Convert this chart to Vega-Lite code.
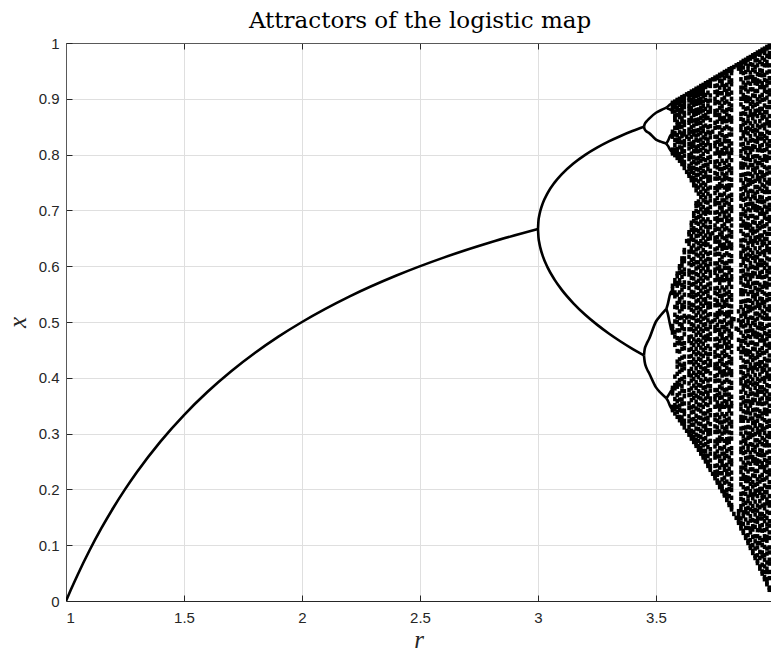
{
"$schema":"https://vega.github.io/schema/vega-lite/v6.json",
"autosize":{"type":"none"},
"width":705,"height":558,
"padding":{"left":66,"top":43,"right":0,"bottom":51},
"background":"white",
"title":{"text":"Attractors of the logistic map","font":"DejaVu Serif","fontSize":23,"fontWeight":"normal","color":"#000000","anchor":"middle","offset":14,"baseline":"alphabetic","dx":1.5,"dy":29},
"config":{"view":{"stroke":null}},
"datasets":{
"branches":[
{"b":"f","r":1,"x":0},{"b":"f","r":1.02,"x":0.0196},{"b":"f","r":1.05,"x":0.0476},{"b":"f","r":1.1,"x":0.0909},{"b":"f","r":1.15,"x":0.1304},{"b":"f","r":1.2,"x":0.1667},{"b":"f","r":1.25,"x":0.2},{"b":"f","r":1.3,"x":0.2308},{"b":"f","r":1.4,"x":0.2857},{"b":"f","r":1.5,"x":0.3333},{"b":"f","r":1.6,"x":0.375},{"b":"f","r":1.7,"x":0.4118},{"b":"f","r":1.8,"x":0.4444},{"b":"f","r":1.9,"x":0.4737},{"b":"f","r":2.0,"x":0.5},{"b":"f","r":2.2,"x":0.5455},{"b":"f","r":2.4,"x":0.5833},{"b":"f","r":2.6,"x":0.6154},{"b":"f","r":2.8,"x":0.6429},{"b":"f","r":3.0,"x":0.6667},
{"b":"p2u","r":3.0,"x":0.6667},{"b":"p2u","r":3.002,"x":0.6815},{"b":"p2u","r":3.005,"x":0.6899},{"b":"p2u","r":3.01,"x":0.6994},{"b":"p2u","r":3.02,"x":0.7125},{"b":"p2u","r":3.04,"x":0.7306},{"b":"p2u","r":3.07,"x":0.7498},{"b":"p2u","r":3.1,"x":0.7646},{"b":"p2u","r":3.15,"x":0.784},{"b":"p2u","r":3.2,"x":0.7995},{"b":"p2u","r":3.25,"x":0.8124},{"b":"p2u","r":3.3,"x":0.8236},{"b":"p2u","r":3.35,"x":0.8334},{"b":"p2u","r":3.4,"x":0.8422},{"b":"p2u","r":3.449,"x":0.8499},
{"b":"p2l","r":3.0,"x":0.6667},{"b":"p2l","r":3.002,"x":0.6516},{"b":"p2l","r":3.005,"x":0.6428},{"b":"p2l","r":3.01,"x":0.6329},{"b":"p2l","r":3.02,"x":0.6186},{"b":"p2l","r":3.04,"x":0.5984},{"b":"p2l","r":3.07,"x":0.5759},{"b":"p2l","r":3.1,"x":0.558},{"b":"p2l","r":3.15,"x":0.5335},{"b":"p2l","r":3.2,"x":0.513},{"b":"p2l","r":3.25,"x":0.4953},{"b":"p2l","r":3.3,"x":0.4794},{"b":"p2l","r":3.35,"x":0.4651},{"b":"p2l","r":3.4,"x":0.452},{"b":"p2l","r":3.449,"x":0.4401},
{"b":"a","r":3.449,"x":0.8499},{"b":"a","r":3.452,"x":0.8547},{"b":"a","r":3.46,"x":0.8595},{"b":"a","r":3.47,"x":0.864},{"b":"a","r":3.5,"x":0.875},{"b":"a","r":3.52,"x":0.8795},{"b":"a","r":3.544,"x":0.8841},
{"b":"c","r":3.449,"x":0.8499},{"b":"c","r":3.452,"x":0.8453},{"b":"c","r":3.46,"x":0.8415},{"b":"c","r":3.47,"x":0.839},{"b":"c","r":3.5,"x":0.8269},{"b":"c","r":3.52,"x":0.8232},{"b":"c","r":3.544,"x":0.8197},
{"b":"bb","r":3.449,"x":0.4401},{"b":"bb","r":3.452,"x":0.4287},{"b":"bb","r":3.46,"x":0.4173},{"b":"bb","r":3.47,"x":0.409},{"b":"bb","r":3.5,"x":0.3828},{"b":"bb","r":3.52,"x":0.373},{"b":"bb","r":3.544,"x":0.3633},
{"b":"d","r":3.449,"x":0.4401},{"b":"d","r":3.452,"x":0.4513},{"b":"d","r":3.46,"x":0.4607},{"b":"d","r":3.47,"x":0.469},{"b":"d","r":3.5,"x":0.5009},{"b":"d","r":3.52,"x":0.512},{"b":"d","r":3.544,"x":0.5236},
{"b":"a1","r":3.544,"x":0.8841},{"b":"a1","r":3.55,"x":0.886},{"b":"a1","r":3.56,"x":0.8899},{"b":"a1","r":3.565,"x":0.8905},
{"b":"a2","r":3.544,"x":0.8841},{"b":"a2","r":3.55,"x":0.8825},{"b":"a2","r":3.56,"x":0.8808},{"b":"a2","r":3.565,"x":0.8795},
{"b":"c1","r":3.544,"x":0.8197},{"b":"c1","r":3.55,"x":0.824},{"b":"c1","r":3.56,"x":0.8333},{"b":"c1","r":3.565,"x":0.8365},
{"b":"c2","r":3.544,"x":0.8197},{"b":"c2","r":3.55,"x":0.816},{"b":"c2","r":3.56,"x":0.8087},{"b":"c2","r":3.565,"x":0.8055},
{"b":"b1","r":3.544,"x":0.3633},{"b":"b1","r":3.55,"x":0.367},{"b":"b1","r":3.56,"x":0.3738},{"b":"b1","r":3.565,"x":0.3775},
{"b":"b2","r":3.544,"x":0.3633},{"b":"b2","r":3.55,"x":0.359},{"b":"b2","r":3.56,"x":0.349},{"b":"b2","r":3.565,"x":0.345},
{"b":"d1","r":3.544,"x":0.5236},{"b":"d1","r":3.55,"x":0.532},{"b":"d1","r":3.56,"x":0.5508},{"b":"d1","r":3.565,"x":0.5555},
{"b":"d2","r":3.544,"x":0.5236},{"b":"d2","r":3.55,"x":0.515},{"b":"d2","r":3.56,"x":0.4945},{"b":"d2","r":3.565,"x":0.4855}
],
"chaos":[
{"r":3.57,"x":[0.893,0.891,0.889,0.884,0.881,0.877,0.841,0.837,0.832,0.809,0.805,0.802,0.565,0.559,0.552,0.493,0.487,0.481,0.382,0.378,0.372,0.348,0.345,0.342]},
{"r":3.58,"x":[0.895,0.893,0.887,0.885,0.877,0.869,0.866,0.862,0.848,0.839,0.836,0.826,0.817,0.809,0.803,0.799,0.575,0.568,0.553,0.546,0.527,0.513,0.501,0.482,0.474,0.459,0.402,0.387,0.381,0.362,0.351,0.344,0.336]},
{"r":3.59,"x":[0.898,0.896,0.892,0.884,0.88,0.871,0.859,0.853,0.848,0.835,0.827,0.823,0.81,0.804,0.799,0.794,0.587,0.582,0.57,0.565,0.549,0.534,0.526,0.509,0.5,0.485,0.471,0.462,0.448,0.429,0.42,0.407,0.391,0.384,0.369,0.358,0.348,0.339,0.33]},
{"r":3.6,"x":[0.9,0.898,0.893,0.889,0.88,0.874,0.867,0.855,0.849,0.84,0.829,0.822,0.813,0.801,0.795,0.789,0.6,0.596,0.588,0.575,0.569,0.553,0.541,0.536,0.519,0.507,0.496,0.485,0.47,0.462,0.447,0.433,0.424,0.411,0.396,0.388,0.372,0.361,0.35,0.342,0.33,0.324]},
{"r":3.61,"x":[0.903,0.9,0.896,0.888,0.883,0.877,0.865,0.859,0.85,0.838,0.833,0.822,0.812,0.805,0.795,0.788,0.783,0.614,0.608,0.601,0.59,0.581,0.566,0.558,0.544,0.53,0.523,0.508,0.495,0.489,0.471,0.461,0.452,0.436,0.422,0.414,0.398,0.385,0.377,0.361,0.353,0.341,0.329,0.322,0.318]},
{"r":3.62,"x":[0.905,0.903,0.897,0.892,0.885,0.875,0.87,0.859,0.853,0.842,0.836,0.824,0.817,0.806,0.798,0.787,0.782,0.776,0.629,0.625,0.614,0.609,0.594,0.586,0.571,0.563,0.549,0.535,0.527,0.511,0.501,0.487,0.478,0.462,0.453,0.438,0.425,0.417,0.401,0.392,0.376,0.367,0.354,0.341,0.335,0.323,0.317,0.311]},
{"r":3.63,"x":[0.908,0.305,0.769,0.645,0.832,0.508]},
{"r":3.64,"x":[0.91,0.907,0.901,0.897,0.888,0.882,0.874,0.862,0.857,0.845,0.838,0.828,0.819,0.811,0.799,0.792,0.78,0.774,0.766,0.762,0.661,0.657,0.646,0.64,0.626,0.617,0.605,0.592,0.585,0.57,0.561,0.548,0.534,0.526,0.51,0.5,0.487,0.473,0.466,0.45,0.438,0.428,0.412,0.405,0.39,0.378,0.369,0.354,0.346,0.331,0.322,0.312,0.304,0.298]},
{"r":3.65,"x":[0.913,0.91,0.906,0.898,0.893,0.884,0.878,0.866,0.86,0.849,0.841,0.832,0.82,0.814,0.802,0.795,0.784,0.776,0.769,0.759,0.754,0.678,0.673,0.665,0.654,0.648,0.633,0.626,0.611,0.602,0.589,0.579,0.567,0.554,0.546,0.531,0.522,0.508,0.496,0.487,0.474,0.462,0.452,0.439,0.428,0.416,0.404,0.395,0.381,0.37,0.36,0.347,0.338,0.325,0.316,0.305,0.297,0.291]},
{"r":3.66,"x":[0.915,0.913,0.908,0.902,0.895,0.889,0.878,0.871,0.861,0.852,0.842,0.836,0.823,0.815,0.806,0.795,0.787,0.776,0.767,0.758,0.751,0.745,0.695,0.69,0.681,0.668,0.661,0.647,0.637,0.625,0.613,0.604,0.589,0.578,0.568,0.553,0.545,0.53,0.519,0.507,0.494,0.484,0.469,0.459,0.446,0.433,0.424,0.409,0.398,0.386,0.373,0.364,0.349,0.339,0.326,0.316,0.303,0.294,0.288,0.285]},
{"r":3.67,"x":[0.918,0.915,0.91,0.905,0.896,0.891,0.88,0.873,0.862,0.855,0.843,0.834,0.826,0.813,0.806,0.793,0.784,0.774,0.763,0.755,0.744,0.736,0.713,0.708,0.699,0.686,0.678,0.665,0.654,0.644,0.63,0.621,0.607,0.596,0.586,0.571,0.562,0.548,0.537,0.525,0.512,0.502,0.488,0.477,0.465,0.452,0.442,0.428,0.417,0.405,0.392,0.382,0.368,0.357,0.345,0.332,0.322,0.309,0.298,0.289,0.282,0.278]},
{"r":3.68,"x":[0.92,0.917,0.912,0.906,0.898,0.892,0.881,0.875,0.863,0.856,0.844,0.836,0.825,0.815,0.806,0.794,0.786,0.773,0.764,0.752,0.741,0.73,0.716,0.709,0.697,0.688,0.676,0.663,0.655,0.641,0.632,0.619,0.607,0.598,0.584,0.574,0.561,0.55,0.539,0.526,0.517,0.503,0.492,0.481,0.468,0.459,0.445,0.434,0.423,0.41,0.401,0.387,0.376,0.365,0.352,0.343,0.329,0.318,0.308,0.296,0.287,0.278,0.271]},
{"r":3.69,"x":[0.923,0.92,0.914,0.909,0.9,0.893,0.884,0.877,0.866,0.857,0.847,0.839,0.827,0.818,0.808,0.797,0.789,0.776,0.767,0.756,0.745,0.733,0.724,0.711,0.702,0.69,0.68,0.668,0.658,0.645,0.636,0.623,0.613,0.601,0.591,0.578,0.568,0.556,0.545,0.533,0.523,0.51,0.5,0.487,0.477,0.465,0.454,0.442,0.432,0.419,0.409,0.396,0.386,0.373,0.363,0.351,0.34,0.328,0.317,0.305,0.294,0.283,0.274,0.268,0.264]},
{"r":3.7,"x":[0.925,0.922,0.917,0.91,0.904,0.895,0.887,0.879,0.869,0.861,0.85,0.842,0.831,0.821,0.812,0.801,0.792,0.78,0.771,0.76,0.749,0.739,0.728,0.718,0.706,0.696,0.684,0.674,0.662,0.651,0.64,0.629,0.618,0.607,0.596,0.584,0.574,0.562,0.551,0.54,0.529,0.517,0.506,0.495,0.484,0.472,0.461,0.45,0.439,0.427,0.416,0.405,0.393,0.382,0.371,0.359,0.348,0.336,0.325,0.313,0.302,0.29,0.279,0.269,0.261,0.257]},
{"r":3.71,"x":[0.928,0.925,0.921,0.907,0.898,0.882,0.871,0.865,0.852,0.837,0.829,0.817,0.807,0.79,0.781,0.768,0.761,0.746,0.735,0.723,0.715,0.701,0.694,0.68,0.671,0.655,0.644,0.638,0.625,0.61,0.602,0.59,0.58,0.563,0.554,0.541,0.534,0.519,0.508,0.496,0.488,0.474,0.467,0.453,0.444,0.428,0.417,0.411,0.398,0.383,0.375,0.363,0.353,0.336,0.327,0.314,0.307,0.292,0.281,0.269,0.261,0.254,0.25]},
{"r":3.72,"x":[0.93,0.927,0.924,0.911,0.896,0.888,0.876,0.866,0.849,0.84,0.827,0.82,0.805,0.794,0.782,0.774,0.76,0.753,0.739,0.73,0.714,0.703,0.697,0.684,0.669,0.661,0.649,0.639,0.622,0.613,0.6,0.593,0.578,0.567,0.555,0.547,0.533,0.526,0.512,0.503,0.487,0.476,0.47,0.457,0.442,0.434,0.422,0.412,0.395,0.386,0.373,0.366,0.351,0.34,0.328,0.32,0.306,0.299,0.285,0.276,0.26,0.249,0.246,0.242]},
{"r":3.73,"x":[0.933,0.93,0.923,0.906,0.897,0.884,0.877,0.862,0.851,0.839,0.831,0.817,0.81,0.796,0.787,0.771,0.76,0.754,0.741,0.726,0.718,0.706,0.696,0.679,0.67,0.657,0.65,0.635,0.624,0.612,0.604,0.59,0.583,0.569,0.56,0.544,0.533,0.527,0.514,0.499,0.491,0.479,0.469,0.452,0.443,0.43,0.423,0.408,0.397,0.385,0.377,0.363,0.356,0.342,0.333,0.317,0.306,0.3,0.287,0.272,0.264,0.252,0.242,0.238,0.235]},
{"r":3.74,"x":[0.935,0.228,0.659,0.841,0.501]},
{"r":3.75,"x":[0.938,0.935,0.923,0.912,0.9,0.892,0.878,0.871,0.857,0.848,0.832,0.821,0.815,0.802,0.787,0.779,0.767,0.757,0.74,0.731,0.718,0.711,0.696,0.685,0.673,0.665,0.651,0.644,0.63,0.621,0.605,0.594,0.588,0.575,0.56,0.552,0.54,0.53,0.513,0.504,0.491,0.484,0.469,0.458,0.446,0.438,0.424,0.417,0.403,0.394,0.378,0.367,0.361,0.348,0.333,0.325,0.313,0.303,0.286,0.277,0.264,0.257,0.242,0.231,0.224,0.22]},
{"r":3.76,"x":[0.94,0.937,0.924,0.913,0.907,0.894,0.879,0.871,0.859,0.849,0.832,0.823,0.81,0.803,0.788,0.777,0.765,0.757,0.743,0.736,0.722,0.713,0.697,0.686,0.68,0.667,0.652,0.644,0.632,0.622,0.605,0.596,0.583,0.576,0.561,0.55,0.538,0.53,0.516,0.509,0.495,0.486,0.47,0.459,0.453,0.44,0.425,0.417,0.405,0.395,0.378,0.369,0.356,0.349,0.334,0.323,0.311,0.303,0.289,0.282,0.268,0.259,0.243,0.232,0.226,0.216,0.212]},
{"r":3.77,"x":[0.943,0.94,0.932,0.92,0.91,0.893,0.884,0.871,0.864,0.849,0.838,0.826,0.818,0.804,0.797,0.783,0.774,0.758,0.747,0.741,0.728,0.713,0.705,0.693,0.683,0.666,0.657,0.644,0.637,0.622,0.611,0.599,0.591,0.577,0.57,0.556,0.547,0.531,0.52,0.514,0.501,0.486,0.478,0.466,0.456,0.439,0.43,0.417,0.41,0.395,0.384,0.372,0.364,0.35,0.343,0.329,0.32,0.304,0.293,0.287,0.274,0.259,0.251,0.239,0.229,0.212,0.208,0.204]},
{"r":3.78,"x":[0.945,0.942,0.932,0.925,0.91,0.899,0.887,0.879,0.865,0.858,0.844,0.835,0.819,0.808,0.802,0.789,0.774,0.766,0.754,0.744,0.727,0.718,0.705,0.698,0.683,0.672,0.66,0.652,0.638,0.631,0.617,0.608,0.592,0.581,0.575,0.562,0.547,0.539,0.527,0.517,0.5,0.491,0.478,0.471,0.456,0.445,0.433,0.425,0.411,0.404,0.39,0.381,0.365,0.354,0.348,0.335,0.32,0.312,0.3,0.29,0.273,0.264,0.251,0.244,0.229,0.218,0.206,0.2,0.197]},
{"r":3.79,"x":[0.948,0.945,0.937,0.923,0.916,0.902,0.893,0.877,0.866,0.86,0.847,0.832,0.824,0.812,0.802,0.785,0.776,0.763,0.756,0.741,0.73,0.718,0.71,0.696,0.689,0.675,0.666,0.65,0.639,0.633,0.62,0.605,0.597,0.585,0.575,0.558,0.549,0.536,0.529,0.514,0.503,0.491,0.483,0.469,0.462,0.448,0.439,0.423,0.412,0.406,0.393,0.378,0.37,0.358,0.348,0.331,0.322,0.309,0.302,0.287,0.276,0.264,0.256,0.242,0.235,0.221,0.212,0.196,0.192,0.189]},
{"r":3.8,"x":[0.95,0.947,0.941,0.925,0.914,0.908,0.895,0.88,0.872,0.86,0.85,0.833,0.824,0.811,0.804,0.789,0.778,0.766,0.758,0.744,0.737,0.723,0.714,0.698,0.687,0.681,0.668,0.653,0.645,0.633,0.623,0.606,0.597,0.584,0.577,0.562,0.551,0.539,0.531,0.517,0.51,0.496,0.487,0.471,0.46,0.454,0.441,0.426,0.418,0.406,0.396,0.379,0.37,0.357,0.35,0.335,0.324,0.312,0.304,0.29,0.283,0.269,0.26,0.244,0.233,0.227,0.214,0.199,0.191,0.184,0.181]},
{"r":3.81,"x":[0.953,0.95,0.938,0.93,0.918,0.908,0.891,0.882,0.869,0.862,0.847,0.836,0.824,0.816,0.802,0.795,0.781,0.772,0.756,0.745,0.739,0.726,0.711,0.703,0.691,0.681,0.664,0.655,0.642,0.635,0.62,0.609,0.597,0.589,0.575,0.568,0.554,0.545,0.529,0.518,0.512,0.499,0.484,0.476,0.464,0.454,0.437,0.428,0.415,0.408,0.393,0.382,0.37,0.362,0.348,0.341,0.327,0.318,0.302,0.291,0.285,0.272,0.257,0.249,0.237,0.227,0.21,0.201,0.188,0.176,0.172]},
{"r":3.82,"x":[0.955,0.953,0.951,0.946,0.933,0.926,0.911,0.9,0.888,0.88,0.866,0.859,0.845,0.836,0.82,0.809,0.803,0.79,0.775,0.767,0.755,0.745,0.728,0.719,0.706,0.699,0.684,0.673,0.661,0.653,0.639,0.632,0.618,0.609,0.593,0.582,0.576,0.563,0.548,0.54,0.528,0.518,0.506,0.501,0.497,0.492,0.479,0.472,0.457,0.446,0.434,0.426,0.412,0.405,0.391,0.382,0.366,0.355,0.349,0.336,0.321,0.313,0.301,0.291,0.274,0.265,0.252,0.245,0.23,0.219,0.207,0.199,0.185,0.172,0.168,0.164]},
{"r":3.83,"x":[0.156,0.505,0.957]},
{"r":3.84,"x":[0.149,0.488,0.96]},
{"r":3.85,"x":[0.14,0.144,0.149,0.155,0.161,0.452,0.468,0.486,0.503,0.519,0.954,0.957,0.96,0.962]},
{"r":3.86,"x":[0.965,0.962,0.959,0.954,0.948,0.935,0.92,0.912,0.9,0.89,0.873,0.864,0.851,0.844,0.829,0.818,0.806,0.798,0.784,0.777,0.763,0.754,0.738,0.727,0.721,0.708,0.693,0.685,0.673,0.663,0.646,0.637,0.624,0.617,0.602,0.591,0.579,0.571,0.557,0.55,0.536,0.527,0.511,0.5,0.494,0.481,0.466,0.458,0.446,0.436,0.419,0.41,0.397,0.39,0.375,0.364,0.352,0.344,0.33,0.323,0.309,0.3,0.284,0.273,0.267,0.254,0.239,0.231,0.219,0.209,0.192,0.183,0.17,0.163,0.148,0.14,0.134,0.13]},
{"r":3.87,"x":[0.968,0.965,0.956,0.946,0.929,0.92,0.907,0.9,0.885,0.874,0.862,0.854,0.84,0.833,0.819,0.81,0.794,0.783,0.777,0.764,0.749,0.741,0.729,0.719,0.702,0.693,0.68,0.673,0.658,0.647,0.635,0.627,0.613,0.606,0.592,0.583,0.567,0.556,0.55,0.537,0.522,0.514,0.502,0.492,0.475,0.466,0.453,0.446,0.431,0.42,0.408,0.4,0.386,0.379,0.365,0.356,0.34,0.329,0.323,0.31,0.295,0.287,0.275,0.265,0.248,0.239,0.226,0.219,0.204,0.193,0.181,0.173,0.159,0.152,0.138,0.126,0.122]},
{"r":3.88,"x":[0.97,0.967,0.963,0.948,0.937,0.925,0.917,0.903,0.896,0.882,0.873,0.857,0.846,0.84,0.827,0.812,0.804,0.792,0.782,0.765,0.756,0.743,0.736,0.721,0.71,0.698,0.69,0.676,0.669,0.655,0.646,0.63,0.619,0.613,0.6,0.585,0.577,0.565,0.555,0.538,0.529,0.516,0.509,0.494,0.483,0.471,0.463,0.449,0.442,0.428,0.419,0.403,0.392,0.386,0.373,0.358,0.35,0.338,0.328,0.311,0.302,0.289,0.282,0.267,0.256,0.244,0.236,0.222,0.215,0.201,0.192,0.176,0.165,0.159,0.146,0.131,0.117,0.113]},
{"r":3.89,"x":[0.973,0.97,0.959,0.952,0.938,0.929,0.913,0.902,0.896,0.883,0.868,0.86,0.848,0.838,0.821,0.812,0.799,0.792,0.777,0.766,0.754,0.746,0.732,0.725,0.711,0.702,0.686,0.675,0.669,0.656,0.641,0.633,0.621,0.611,0.594,0.585,0.572,0.565,0.55,0.539,0.527,0.519,0.505,0.498,0.484,0.475,0.459,0.448,0.442,0.429,0.414,0.406,0.394,0.384,0.367,0.358,0.345,0.338,0.323,0.312,0.3,0.292,0.278,0.271,0.257,0.248,0.232,0.221,0.215,0.202,0.187,0.179,0.167,0.157,0.14,0.131,0.118,0.108,0.104]},
{"r":3.9,"x":[0.975,0.972,0.962,0.947,0.939,0.927,0.917,0.9,0.891,0.878,0.871,0.856,0.845,0.833,0.825,0.811,0.804,0.79,0.781,0.765,0.754,0.748,0.735,0.72,0.712,0.7,0.69,0.673,0.664,0.651,0.644,0.629,0.618,0.606,0.598,0.584,0.577,0.563,0.554,0.538,0.527,0.521,0.508,0.493,0.485,0.473,0.463,0.446,0.437,0.424,0.417,0.402,0.391,0.379,0.371,0.357,0.35,0.336,0.327,0.311,0.3,0.294,0.281,0.266,0.258,0.246,0.236,0.219,0.21,0.197,0.19,0.175,0.164,0.152,0.144,0.13,0.123,0.109,0.099,0.095]},
{"r":3.91,"x":[0.978,0.975,0.961,0.952,0.939,0.932,0.917,0.906,0.894,0.886,0.872,0.865,0.851,0.842,0.826,0.815,0.809,0.796,0.781,0.773,0.761,0.751,0.734,0.725,0.712,0.705,0.69,0.679,0.667,0.659,0.645,0.638,0.624,0.615,0.599,0.588,0.582,0.569,0.554,0.546,0.534,0.524,0.507,0.498,0.485,0.478,0.463,0.452,0.44,0.432,0.418,0.411,0.397,0.388,0.372,0.361,0.355,0.342,0.327,0.319,0.307,0.297,0.28,0.271,0.258,0.251,0.236,0.225,0.213,0.205,0.191,0.184,0.17,0.161,0.145,0.134,0.128,0.115,0.1,0.09,0.086]},
{"r":3.92,"x":[0.98,0.977,0.969,0.957,0.949,0.935,0.928,0.914,0.905,0.889,0.878,0.872,0.859,0.844,0.836,0.824,0.814,0.797,0.788,0.775,0.768,0.753,0.742,0.73,0.722,0.708,0.701,0.687,0.678,0.662,0.651,0.645,0.632,0.617,0.609,0.597,0.587,0.57,0.561,0.548,0.541,0.526,0.515,0.503,0.495,0.481,0.474,0.46,0.451,0.435,0.424,0.418,0.405,0.39,0.382,0.37,0.36,0.343,0.334,0.321,0.314,0.299,0.288,0.276,0.268,0.254,0.247,0.233,0.224,0.208,0.197,0.191,0.178,0.163,0.155,0.143,0.133,0.116,0.107,0.094,0.081,0.077]},
{"r":3.93,"x":[0.983,0.98,0.969,0.96,0.944,0.933,0.927,0.914,0.899,0.891,0.879,0.869,0.852,0.843,0.83,0.823,0.808,0.797,0.785,0.777,0.763,0.756,0.742,0.733,0.717,0.706,0.7,0.687,0.672,0.664,0.652,0.642,0.625,0.616,0.603,0.596,0.581,0.57,0.558,0.55,0.536,0.529,0.515,0.506,0.49,0.479,0.473,0.46,0.445,0.437,0.425,0.415,0.398,0.389,0.376,0.369,0.354,0.343,0.331,0.323,0.309,0.302,0.288,0.279,0.263,0.252,0.246,0.233,0.218,0.21,0.198,0.188,0.171,0.162,0.149,0.142,0.127,0.116,0.104,0.096,0.082,0.072,0.068]},
{"r":3.94,"x":[0.985,0.982,0.979,0.966,0.951,0.943,0.931,0.921,0.904,0.895,0.882,0.875,0.86,0.849,0.837,0.829,0.815,0.808,0.794,0.785,0.769,0.758,0.752,0.739,0.724,0.716,0.704,0.694,0.677,0.668,0.655,0.648,0.633,0.622,0.61,0.602,0.588,0.581,0.567,0.558,0.542,0.531,0.525,0.512,0.497,0.489,0.477,0.467,0.45,0.441,0.428,0.421,0.406,0.395,0.383,0.375,0.361,0.354,0.34,0.331,0.315,0.304,0.298,0.285,0.27,0.262,0.25,0.24,0.223,0.214,0.201,0.194,0.179,0.168,0.156,0.148,0.134,0.127,0.113,0.104,0.088,0.077,0.062,0.058]},
{"r":3.95,"x":[0.988,0.985,0.973,0.962,0.95,0.942,0.928,0.921,0.907,0.898,0.882,0.871,0.865,0.852,0.837,0.829,0.817,0.807,0.79,0.781,0.768,0.761,0.746,0.735,0.723,0.715,0.701,0.694,0.68,0.671,0.655,0.644,0.638,0.625,0.61,0.602,0.59,0.58,0.563,0.554,0.541,0.534,0.519,0.508,0.496,0.488,0.474,0.467,0.453,0.444,0.428,0.417,0.411,0.398,0.383,0.375,0.363,0.353,0.336,0.327,0.314,0.307,0.292,0.281,0.269,0.261,0.247,0.24,0.226,0.217,0.201,0.19,0.184,0.171,0.156,0.148,0.136,0.126,0.109,0.1,0.087,0.08,0.065,0.053,0.049]},
{"r":3.96,"x":[0.99,0.987,0.982,0.97,0.96,0.943,0.934,0.921,0.914,0.899,0.888,0.876,0.868,0.854,0.847,0.833,0.824,0.808,0.797,0.791,0.778,0.763,0.755,0.743,0.733,0.716,0.707,0.694,0.687,0.672,0.661,0.649,0.641,0.627,0.62,0.606,0.597,0.581,0.57,0.564,0.551,0.536,0.528,0.516,0.506,0.489,0.48,0.467,0.46,0.445,0.434,0.422,0.414,0.4,0.393,0.379,0.37,0.354,0.343,0.337,0.324,0.309,0.301,0.289,0.279,0.262,0.253,0.24,0.233,0.218,0.207,0.195,0.187,0.173,0.166,0.152,0.143,0.127,0.116,0.11,0.097,0.082,0.074,0.062,0.052,0.043,0.039]},
{"r":3.97,"x":[0.993,0.99,0.977,0.966,0.96,0.947,0.932,0.924,0.912,0.902,0.885,0.876,0.863,0.856,0.841,0.83,0.818,0.81,0.796,0.789,0.775,0.766,0.75,0.739,0.733,0.72,0.705,0.697,0.685,0.675,0.658,0.649,0.636,0.629,0.614,0.603,0.591,0.583,0.569,0.562,0.548,0.539,0.523,0.512,0.506,0.493,0.478,0.47,0.458,0.448,0.431,0.422,0.409,0.402,0.387,0.376,0.364,0.356,0.342,0.335,0.321,0.312,0.296,0.285,0.279,0.266,0.251,0.243,0.231,0.221,0.204,0.195,0.182,0.175,0.16,0.149,0.137,0.129,0.115,0.108,0.094,0.085,0.069,0.058,0.052,0.039,0.033,0.03]},
{"r":3.98,"x":[0.995,0.992,0.982,0.975,0.96,0.949,0.937,0.929,0.915,0.908,0.894,0.885,0.869,0.858,0.852,0.839,0.824,0.816,0.804,0.794,0.777,0.768,0.755,0.748,0.733,0.722,0.71,0.702,0.688,0.681,0.667,0.658,0.642,0.631,0.625,0.612,0.597,0.589,0.577,0.567,0.55,0.541,0.528,0.521,0.506,0.495,0.483,0.475,0.461,0.454,0.44,0.431,0.415,0.404,0.398,0.385,0.37,0.362,0.35,0.34,0.323,0.314,0.301,0.294,0.279,0.268,0.256,0.248,0.234,0.227,0.213,0.204,0.188,0.177,0.171,0.158,0.143,0.135,0.123,0.113,0.096,0.087,0.074,0.067,0.052,0.041,0.024,0.02]}
]
},
"layer":[
{"data":{"name":"branches"},
 "mark":{"type":"line","color":"#000000","strokeWidth":2.6,"interpolate":"monotone","clip":true},
 "encoding":{
  "x":{"field":"r","type":"quantitative","scale":{"domain":[1,3.98729],"nice":false,"zero":false},
   "axis":{"orient":"bottom","values":[1,1.5,2,2.5,3,3.5,4],"format":"~g","grid":true,"gridColor":"#dfdfdf","gridWidth":1,"domainColor":"#262626","domainWidth":1,"tickColor":"#262626","tickSize":-6,"labelPadding":15,"labelFont":"Liberation Sans","labelFontSize":15,"labelColor":"#262626","title":"r","titleFont":"Liberation Serif","titleFontStyle":"italic","titleFontWeight":"normal","titleFontSize":25,"titleColor":"#262626","titlePadding":2}},
  "y":{"field":"x","type":"quantitative","scale":{"domain":[0,1],"nice":false,"zero":false},
   "axis":{"orient":"left","values":[0,0.1,0.2,0.3,0.4,0.5,0.6,0.7,0.8,0.9,1],"format":"~g","grid":true,"gridColor":"#dfdfdf","gridWidth":1,"domainColor":"#595959","domainWidth":1,"tickColor":"#262626","tickSize":-6,"labelPadding":13,"labelFont":"Liberation Sans","labelFontSize":15,"labelColor":"#262626","title":"x","titleAngle":-90,"titleFont":"Liberation Serif","titleFontStyle":"italic","titleFontWeight":"normal","titleFontSize":25,"titleColor":"#262626","titlePadding":8}},
  "detail":{"field":"b","type":"nominal"}
 }},
{"data":{"name":"chaos"},
 "transform":[{"flatten":["x"]}],
 "mark":{"type":"point","shape":"M-0.9,-1.1H0.9V1.1H-0.9Z","color":"#000000","size":16,"opacity":1,"filled":true,"strokeWidth":0,"clip":true},
 "encoding":{
  "x":{"field":"r","type":"quantitative","axis":null},
  "y":{"field":"x","type":"quantitative","axis":null}
 }},
{"data":{"name":"branches"},
 "mark":{"type":"point","opacity":0},
 "encoding":{
  "x":{"field":"r","type":"quantitative","axis":{"orient":"top","values":[1,1.5,2,2.5,3,3.5,4],"labels":false,"grid":false,"domainColor":"#595959","domainWidth":1,"tickColor":"#262626","tickSize":-6,"title":null}},
  "y":{"field":"x","type":"quantitative","axis":null}
 }}
],
"resolve":{"axis":{"x":"independent","y":"independent"}}
}
